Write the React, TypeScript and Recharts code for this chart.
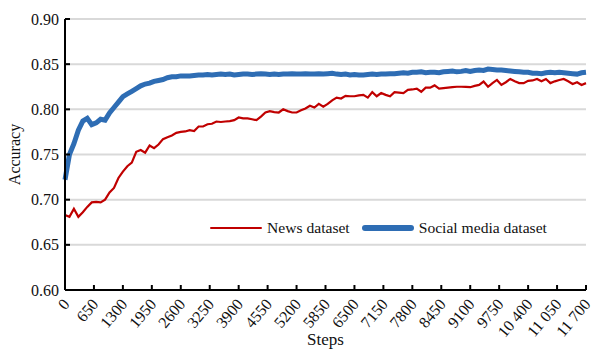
import { LineChart, Line, XAxis, YAxis, CartesianGrid, Label } from "recharts";

const steps: number[] = [
  0, 100, 200, 300, 400, 500, 600, 700, 800, 900,
  1000, 1100, 1200, 1300, 1400, 1500, 1600, 1700, 1800, 1900,
  2000, 2100, 2200, 2300, 2400, 2500, 2600, 2700, 2800, 2900,
  3000, 3100, 3200, 3300, 3400, 3500, 3600, 3700, 3800, 3900,
  4000, 4100, 4200, 4300, 4400, 4500, 4600, 4700, 4800, 4900,
  5000, 5100, 5200, 5300, 5400, 5500, 5600, 5700, 5800, 5900,
  6000, 6100, 6200, 6300, 6400, 6500, 6600, 6700, 6800, 6900,
  7000, 7100, 7200, 7300, 7400, 7500, 7600, 7700, 7800, 7900,
  8000, 8100, 8200, 8300, 8400, 8500, 8600, 8700, 8800, 8900,
  9000, 9100, 9200, 9300, 9400, 9500, 9600, 9700, 9800, 9900,
  10000, 10100, 10200, 10300, 10400, 10500, 10600, 10700, 10800, 10900,
  11000, 11100, 11200, 11300, 11400, 11500, 11600, 11700,
];

const news: number[] = [
  0.683, 0.681, 0.69, 0.681, 0.686, 0.692, 0.697, 0.6975, 0.697, 0.7,
  0.708, 0.713, 0.724, 0.731, 0.737, 0.741, 0.753, 0.755, 0.752, 0.76,
  0.757, 0.761, 0.767, 0.769, 0.771, 0.774, 0.775, 0.7755, 0.777, 0.776,
  0.781, 0.781, 0.7835, 0.784, 0.7865, 0.786, 0.7865, 0.787, 0.788, 0.791,
  0.79, 0.79, 0.789, 0.788, 0.792, 0.7965, 0.798, 0.797, 0.7965, 0.8,
  0.798, 0.7965, 0.7965, 0.799, 0.801, 0.804, 0.802, 0.806, 0.803, 0.806,
  0.81, 0.813, 0.812, 0.815, 0.8145, 0.8145, 0.8155, 0.816, 0.813, 0.819,
  0.8145, 0.818, 0.816, 0.8145, 0.819, 0.8185, 0.818, 0.8215, 0.822, 0.823,
  0.8195, 0.824, 0.824, 0.8265, 0.823, 0.8235, 0.824, 0.8245, 0.825, 0.825,
  0.8248, 0.8245, 0.826, 0.827, 0.8307, 0.825, 0.829, 0.8325, 0.827, 0.83,
  0.8336, 0.831, 0.829, 0.829, 0.8315, 0.832, 0.8336, 0.831, 0.8336, 0.829,
  0.831, 0.8325, 0.8336, 0.831, 0.828, 0.83, 0.827, 0.829,
];

const social: number[] = [
  0.722, 0.75, 0.762, 0.777, 0.787, 0.79, 0.783, 0.785, 0.789, 0.788,
  0.796, 0.802, 0.808, 0.814, 0.817, 0.82, 0.823, 0.826, 0.828, 0.829,
  0.831, 0.832, 0.833, 0.835, 0.836, 0.836, 0.837, 0.837, 0.837, 0.8375,
  0.838, 0.838, 0.8385, 0.838, 0.8385, 0.839, 0.8385, 0.839, 0.838, 0.8385,
  0.839, 0.839, 0.8385, 0.839, 0.8395, 0.839, 0.8385, 0.839, 0.8385, 0.839,
  0.839, 0.8395, 0.839, 0.839, 0.8395, 0.839, 0.839, 0.8395, 0.839, 0.8395,
  0.84, 0.839, 0.8385, 0.839, 0.838, 0.8385, 0.838, 0.838, 0.8385, 0.839,
  0.8385, 0.839, 0.839, 0.8395, 0.8395, 0.84, 0.8405, 0.84, 0.841, 0.841,
  0.8415, 0.8405, 0.841, 0.841, 0.8405, 0.8415, 0.842, 0.8425, 0.8415, 0.842,
  0.843, 0.842, 0.843, 0.8435, 0.843, 0.8445, 0.844, 0.8435, 0.8435, 0.843,
  0.8425, 0.842, 0.8415, 0.841, 0.841, 0.84, 0.84, 0.8395, 0.8405, 0.841,
  0.8405, 0.841, 0.8405, 0.84, 0.8395, 0.839, 0.8405, 0.841,
];

const xTicks: number[] = [
  0, 650, 1300, 1950, 2600, 3250, 3900, 4550, 5200, 5850,
  6500, 7150, 7800, 8450, 9100, 9750, 10400, 11050, 11700,
];
const yTicks: number[] = [0.6, 0.65, 0.7, 0.75, 0.8, 0.85, 0.9];

const data = steps.map((s, i) => ({ step: s, news: news[i], social: social[i] }));

const FONT = "'Liberation Serif', 'Times New Roman', serif";
const RED = "#C00000";
const BLUE = "#2E6DB4";

function fmtStep(v: number) {
  const s = String(v);
  return v >= 10000 ? s.slice(0, s.length - 3) + " " + s.slice(-3) : s;
}

function XTick({ x, y, payload }: any) {
  const tx = x + 1;
  const ty = y + 11;
  return (
    <g>
      <line x1={x} x2={x} y1={y} y2={y - 5} stroke="#000" strokeWidth={2} />
      <text
        x={tx}
        y={ty}
        dy="0.35em"
        textAnchor="end"
        transform={`rotate(-50, ${tx}, ${ty})`}
        fontFamily={FONT}
        fontSize={16}
        fill="#111"
      >
        {fmtStep(payload.value)}
      </text>
    </g>
  );
}

function YTick({ x, y, payload }: any) {
  return (
    <g>
      <line x1={x} x2={x + 5} y1={y} y2={y} stroke="#000" strokeWidth={2} />
      <text x={x - 6} y={y} dy="0.35em" textAnchor="end" fontFamily={FONT} fontSize={16} fill="#111">
        {Number(payload.value).toFixed(2)}
      </text>
    </g>
  );
}

function LegendBox() {
  const item = (color: string, w: number, label: string) => (
    <span style={{ display: "inline-flex", alignItems: "center", marginRight: 12 }}>
      <span style={{ display: "inline-block", width: 52, height: w, background: color, borderRadius: w / 2, marginRight: 5 }} />
      <span>{label}</span>
    </span>
  );
  return (
    <div
      style={{
        position: "absolute",
        left: 208,
        top: 219,
        fontFamily: FONT,
        fontSize: 15.6,
        color: "#111",
        display: "flex",
        whiteSpace: "nowrap",
        background: "#fff",
        padding: "0 2px",
      }}
    >
      {item(RED, 2.5, "News dataset")}
      {item(BLUE, 6, "Social media dataset")}
    </div>
  );
}

export default function App() {
  return (
    <div style={{ position: "absolute", left: 0, top: 0, width: 594, height: 350, background: "#fff" }}>
      <LineChart width={594} height={350} data={data} margin={{ top: 19, right: 8, bottom: 0, left: 0 }}>
        <CartesianGrid vertical={false} stroke="#d9d9d9" strokeWidth={2} />
        <XAxis
          dataKey="step"
          type="number"
          domain={[0, 11700]}
          ticks={xTicks}
          interval={0}
          tick={<XTick />}
          tickLine={false}
          tickSize={0}
          tickMargin={0}
          axisLine={{ stroke: "#000", strokeWidth: 2 }}
          height={60}
        >
          <Label value="Steps" position="insideBottom" offset={5} style={{ fontFamily: FONT, fontSize: 17, fill: "#111" }} />
        </XAxis>
        <YAxis
          type="number"
          domain={[0.6, 0.9]}
          ticks={yTicks}
          interval={0}
          tick={<YTick />}
          tickLine={false}
          tickSize={0}
          tickMargin={0}
          axisLine={{ stroke: "#000", strokeWidth: 2 }}
          width={65}
        >
          <Label
            value="Accuracy"
            angle={-90}
            position="insideLeft"
            offset={14}
            style={{ fontFamily: FONT, fontSize: 16, fill: "#111", textAnchor: "middle" }}
          />
        </YAxis>
        <Line type="linear" dataKey="news" stroke={RED} strokeWidth={2.2} dot={false} isAnimationActive={false} />
        <Line type="linear" dataKey="social" stroke={BLUE} strokeWidth={5} dot={false} isAnimationActive={false} />
      </LineChart>
      <LegendBox />
    </div>
  );
}
